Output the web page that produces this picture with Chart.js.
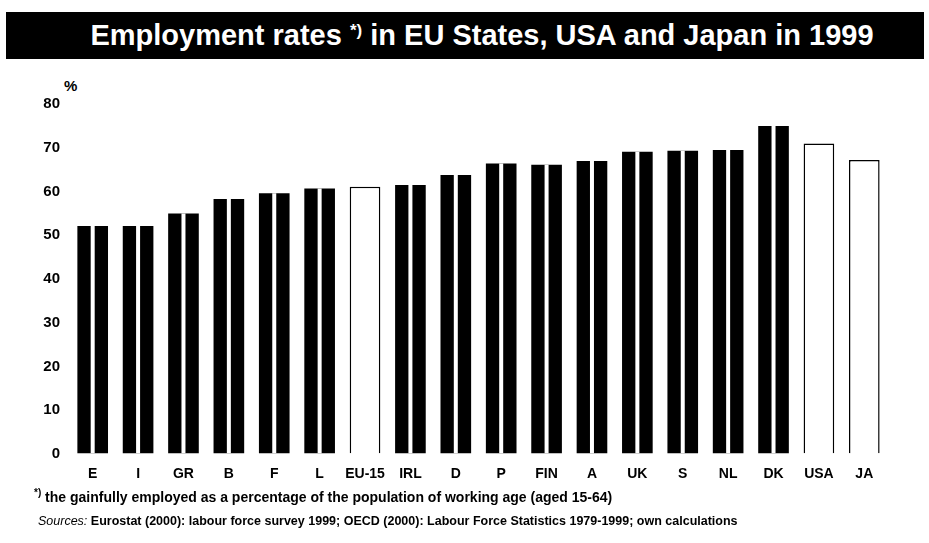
<!DOCTYPE html>
<html>
<head>
<meta charset="utf-8">
<script src="https://cdn.jsdelivr.net/npm/chart.js@4"></script>
<style>
  body { margin: 0; background: #fff; font-family: "Liberation Sans", Arial, sans-serif; }
  #page { position: relative; width: 929px; height: 543px; overflow: hidden; }
  #banner { position: absolute; left: 6px; top: 12px; width: 918px; height: 47px; background: #000;
            color: #fff; font-size: 29px; font-weight: bold; line-height: 47px; text-align: center; padding-left: 34px; box-sizing: border-box; }
  #banner sup { font-size: 17px; line-height: 0; vertical-align: 9px; }
  #pct { position: absolute; left: 64px; top: 77px; font-size: 15px; font-weight: bold; }
  #wrap { position: absolute; left: 0; top: 70px; width: 929px; height: 420px; }
  .note { position: absolute; left: 38px; color: #000; white-space: nowrap; font-weight: bold; }
  .note sup { font-size: 10px; font-weight: bold; }
</style>
</head>
<body>
<div id="page">
  <div id="banner">Employment rates <sup>*)</sup> in EU States, USA and Japan in 1999</div>
  <div id="pct">%</div>
  <div id="wrap"><canvas id="chart"></canvas></div>
  <div class="note" style="top:487px; left:34px; font-size:14px;"><sup>*)</sup> the gainfully employed as a percentage of the population of working age (aged 15-64)</div>
  <div class="note" style="top:514px; font-size:12.5px;"><i style="font-weight:normal">Sources:</i> Eurostat (2000): labour force survey 1999; OECD (2000): Labour Force Statistics 1979-1999; own calculations</div>
</div>
<script>
var countries = ['E', 'I', 'GR', 'B', 'F', 'L', 'EU-15', 'IRL', 'D', 'P', 'FIN', 'A', 'UK', 'S', 'NL', 'DK', 'USA', 'JA'];
var rates = [52.1, 52.1, 55.0, 58.3, 59.6, 60.7, 61.1, 61.5, 63.8, 66.4, 66.1, 67.0, 69.1, 69.3, 69.5, 75.0, 71.0, 67.2];
var aggregates = ['EU-15', 'USA', 'JA'];

var isAgg = countries.map(function(c) { return aggregates.indexOf(c) >= 0 });

// white split down the middle of the dark bars
var splitBars = {
    id: 'splitBars',
    afterDatasetsDraw: function(chart) {
        var ctx = chart.ctx;
        var meta = chart.getDatasetMeta(0);
        ctx.save();
        ctx.strokeStyle = '#fff';
        ctx.lineWidth = 4;
        meta.data.forEach(function(bar, i) {
            if (isAgg[i]) return;
            ctx.beginPath();
            ctx.moveTo(bar.x, bar.y);
            ctx.lineTo(bar.x, bar.base);
            ctx.stroke();
        });
        ctx.restore();
    }
};

new Chart(document.getElementById('chart'), {
    type: 'bar',
    data: {
        labels: countries,
        datasets: [{
            data: rates,
            backgroundColor: isAgg.map(function(a) { return a ? '#fff' : '#000' }),
            borderColor: '#000',
            borderWidth: isAgg.map(function(a) { return a ? 1.5 : 0 }),
            borderSkipped: 'bottom',
            barPercentage: 0.75,
            categoryPercentage: 0.9
        }]
    },
    options: {
        responsive: true,
        maintainAspectRatio: false,
        animation: false,
        layout: { padding: { top: 34, right: 42, left: 0, bottom: 0 } },
        plugins: {
            legend: { display: false },
            tooltip: { enabled: false }
        },
        scales: {
            x: {
                grid: { display: false },
                border: { display: false },
                ticks: {
                    color: '#000',
                    font: { family: 'Liberation Sans', size: 14, weight: 'bold' },
                    padding: 4,
                    maxRotation: 0,
                    autoSkip: false
                },
                afterFit: function(s) { s.height = 36 }
            },
            y: {
                min: 0,
                max: 80,
                z: 1,
                border: { display: false },
                grid: {
                    drawTicks: false,
                    lineWidth: 1.5,
                    color: function(c) { return (c.tick && (c.tick.value === 40 || c.tick.value === 60)) ? '#fff' : 'rgba(0,0,0,0)' }
                },
                ticks: {
                    stepSize: 10,
                    color: '#000',
                    padding: 10,
                    font: { family: 'Liberation Sans', size: 15, weight: 'bold' }
                },
                afterFit: function(s) { s.width = 70 }
            }
        }
    },
    plugins: [splitBars]
});
</script>
</body>
</html>
